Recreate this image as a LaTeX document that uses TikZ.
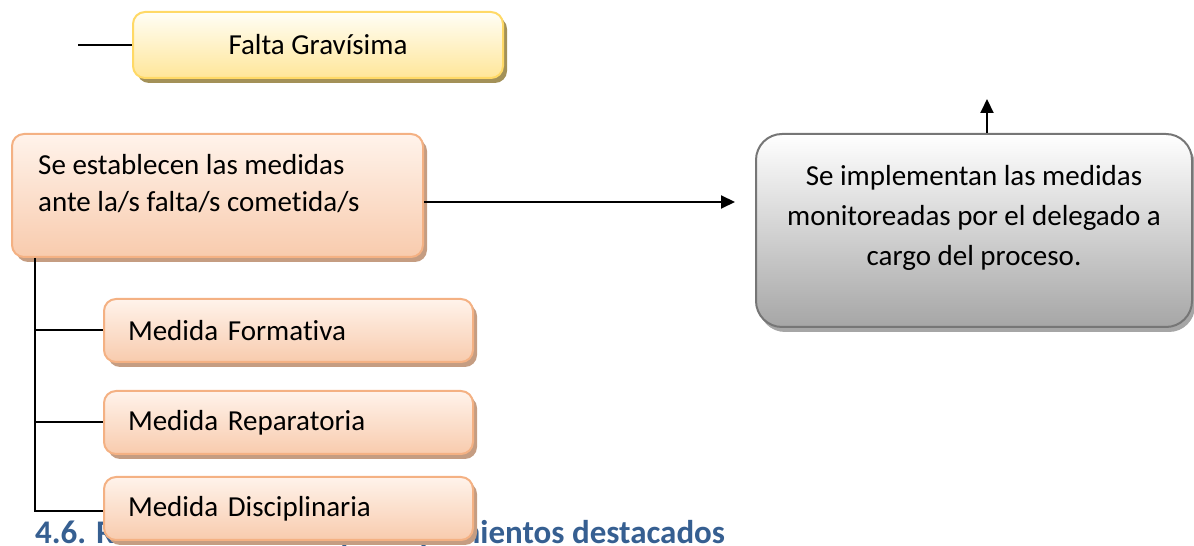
\documentclass[tikz,border=0pt]{standalone}
\usepackage{fontspec}
\setmainfont{Carlito}[Ligatures=NoCommon]
\usetikzlibrary{arrows.meta,shadows,positioning}
\definecolor{ybord}{HTML}{FFD966}
\definecolor{ytop}{HTML}{FFFEF6}
\definecolor{ybot}{HTML}{FFE699}
\definecolor{obord}{HTML}{F4B183}
\definecolor{otop}{HTML}{FFF3EB}
\definecolor{obot}{HTML}{F8CBAD}
\definecolor{gbord}{HTML}{767676}
\definecolor{gbot}{HTML}{A6A6A6}
\definecolor{headblue}{HTML}{365F91}
\tikzset{
  base/.style={rounded corners=12pt, line width=2pt, font=\fontsize{29}{37}\selectfont, inner sep=0pt},
  ybox/.style={base, draw=ybord, top color=ytop, bottom color=ybot,
     drop shadow={shadow xshift=4pt, shadow yshift=-5pt, fill=black!30!ybord!70!gray, opacity=1}},
  obox/.style={base, draw=obord, top color=otop, bottom color=obot,
     drop shadow={shadow xshift=4pt, shadow yshift=-5pt, fill=obord!60!gray, opacity=1}},
  mbox/.style={obox, minimum width=369pt, minimum height=63pt, text width=321pt, align=left},
  gbox/.style={base, rounded corners=26pt, draw=gbord, top color=white, bottom color=gbot,
     drop shadow={shadow xshift=3pt, shadow yshift=-5pt, fill=gray!70, opacity=1}},
  conn/.style={line width=2pt, black},
  arr/.style={conn, -{Triangle[length=14pt,width=13pt]}},
  txt/.style={font=\fontsize{29}{40}\selectfont, inner sep=0pt, align=center}
}
\begin{document}
\begin{tikzpicture}[x=1pt,y=1pt]
\useasboundingbox (0,0) rectangle (1194,546);
% heading behind
\node[anchor=base west, inner sep=0pt, font=\fontsize{33}{36}\selectfont\bfseries, text=headblue] (head) at (35,2) {4.6. Reconocimientos y cumplimientos destacados};
% boxes
\node[ybox, minimum width=370pt, minimum height=66pt] (falta) at (318,501) {Falta Gravísima};
\node[obox, minimum width=411pt, minimum height=123pt] (main) at (217.5,350.5) {};
\node[anchor=north west, inner sep=0pt, align=left, font=\fontsize{29}{37}\selectfont] (maintext) at (38,392) {Se establecen las medidas\\ante la/s falta/s cometida/s};
\node[gbox, minimum width=436pt, minimum height=193pt] (gray) at (974,315.5) {};
\node[txt] (graytext) at (974,328) {Se implementan las medidas\\monitoreadas por el delegado a\\cargo del proceso.};
\node[mbox] (m1) at (288.5,215.5) {Medida Formativa};
\node[mbox] (m2) at (288.5,123.5) {Medida Reparatoria};
% connectors
\coordinate (fstart) at (78,500);
\draw[conn] (fstart |- falta.west) -- (falta.west);
\coordinate (a1) at (735,344);
\draw[arr] (main.east |- a1) -- (a1);
\coordinate (a2) at (987,447);
\draw[arr] (a2 |- gray.north) -- (a2);
\coordinate (trunk) at (35,35);
\draw[conn] (main.south -| trunk) -- (trunk) -- ++(69,0);
\draw[conn] (trunk |- m1.west) -- (m1.west);
\draw[conn] (trunk |- m2.west) -- (m2.west);
\node[mbox] (m3) at (288.5,37.5) {Medida Disciplinaria};
\end{tikzpicture}
\end{document}
